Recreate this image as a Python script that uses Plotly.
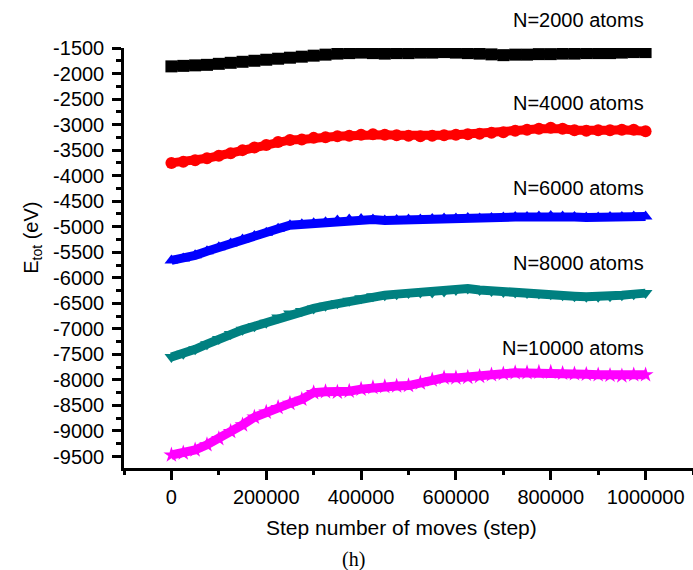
import plotly.graph_objects as go

steps = [i * 25000 for i in range(41)]

e_2000 = [-1860, -1850, -1840, -1830, -1810, -1790, -1770, -1750, -1730, -1710,
          -1690, -1670, -1650, -1630, -1610, -1600, -1590, -1600, -1610, -1600,
          -1600, -1590, -1590, -1580, -1590, -1600, -1610, -1625, -1640, -1630,
          -1630, -1620, -1620, -1610, -1610, -1600, -1600, -1600, -1590, -1580, -1580]
e_4000 = [-3750, -3730, -3700, -3660, -3610, -3560, -3500, -3450, -3400, -3340,
          -3300, -3290, -3260, -3250, -3230, -3220, -3200, -3190, -3200, -3210,
          -3220, -3230, -3220, -3210, -3200, -3190, -3180, -3160, -3150, -3120,
          -3100, -3080, -3060, -3080, -3110, -3120, -3110, -3110, -3100, -3100, -3130]
e_6000 = [-5660, -5620, -5560, -5480, -5400, -5330, -5250, -5180, -5120, -5040,
          -4970, -4950, -4930, -4910, -4880, -4860, -4850, -4860, -4880, -4870,
          -4860, -4860, -4850, -4840, -4840, -4830, -4840, -4830, -4820, -4810,
          -4810, -4800, -4790, -4800, -4810, -4820, -4820, -4810, -4810, -4800, -4800]
e_8000 = [-7550, -7490, -7400, -7300, -7200, -7100, -7020, -6950, -6880, -6780,
          -6700, -6650, -6600, -6550, -6500, -6450, -6400, -6360, -6340, -6320,
          -6300, -6290, -6290, -6270, -6240, -6210, -6240, -6260, -6280, -6290,
          -6300, -6310, -6320, -6340, -6360, -6370, -6370, -6360, -6340, -6320, -6300]
e_10000 = [-9470, -9430, -9370, -9270, -9150, -9010, -8880, -8730, -8630, -8540,
           -8460, -8380, -8250, -8230, -8240, -8220, -8180, -8150, -8130, -8120,
           -8110, -8060, -8000, -7960, -7960, -7950, -7930, -7900, -7880, -7860,
           -7860, -7850, -7850, -7870, -7880, -7890, -7900, -7910, -7920, -7900, -7900]

series_names = ["N=2000 atoms", "N=4000 atoms", "N=6000 atoms", "N=8000 atoms", "N=10000 atoms"]
series_values = [e_2000, e_4000, e_6000, e_8000, e_10000]
colors = ["#000000", "#ff0000", "#0000ff", "#008080", "#ff00ff"]
symbols = ["square", "circle", "triangle-up", "triangle-down", "star"]
label_y = [1.067, 0.869, 0.667, 0.488, 0.286]

y_ticks = list(range(-9500, -1499, 500))
x_ticks = [0, 200000, 400000, 600000, 800000, 1000000]

FONT = "Liberation Sans, Arial, sans-serif"

fig = go.Figure()
for name, vals, c, s in zip(series_names, series_values, colors, symbols):
    fig.add_trace(go.Scatter(
        x=steps, y=vals, mode="lines+markers", name=name,
        line=dict(color=c, width=9),
        marker=dict(color=c, symbol=s, size=12, line=dict(width=0)),
        showlegend=False,
    ))

annotations = []
for name, ly in zip(series_names, label_y):
    annotations.append(dict(
        text=name, xref="x", yref="paper", x=1000000, y=ly,
        xanchor="right", yanchor="middle", showarrow=False,
        font=dict(family=FONT, size=20, color="#000000"),
    ))
annotations.append(dict(
    text="E<sub>tot</sub> (eV)", xref="paper", yref="paper", x=-0.16, y=0.548,
    xanchor="center", yanchor="middle", textangle=-90, showarrow=False,
    font=dict(family=FONT, size=20, color="#000000"),
))
annotations.append(dict(
    text="Step number of moves (step)", xref="paper", yref="paper", x=0.4877, y=-0.1405,
    xanchor="center", yanchor="middle", showarrow=False,
    font=dict(family=FONT, size=21, color="#000000"),
))
annotations.append(dict(
    text="(h)", xref="paper", yref="paper", x=0.4025, y=-0.2167,
    xanchor="center", yanchor="middle", showarrow=False,
    font=dict(family="Liberation Serif, Times New Roman, serif", size=20, color="#000000"),
))

fig.update_layout(
    width=693, height=570,
    margin=dict(l=124, r=0, t=48, b=102),
    paper_bgcolor="white", plot_bgcolor="white",
    annotations=annotations,
    xaxis=dict(
        range=[-100000, 1100000], tickvals=x_ticks,
        ticktext=[str(v) for v in x_ticks],
        showgrid=False, zeroline=False,
        showline=True, linecolor="black", linewidth=2.5,
        ticks="outside", ticklen=9, tickwidth=2.5, tickcolor="black",
        minor=dict(dtick=100000, tick0=0, ticks="outside", ticklen=4, tickwidth=2.5, tickcolor="black"),
        tickfont=dict(family=FONT, size=20, color="black"),
    ),
    yaxis=dict(
        range=[-9725, -1500], tickvals=y_ticks,
        ticktext=[str(v) for v in y_ticks],
        showgrid=False, zeroline=False,
        showline=True, linecolor="black", linewidth=2.5,
        ticks="outside", ticklen=9, tickwidth=2.5, tickcolor="black",
        minor=dict(dtick=250, tick0=-9500, ticks="outside", ticklen=5, tickwidth=2.5, tickcolor="black"),
        tickfont=dict(family=FONT, size=20, color="black"),
        ticklabelstandoff=4,
    ),
)

fig.write_html("out.html")
